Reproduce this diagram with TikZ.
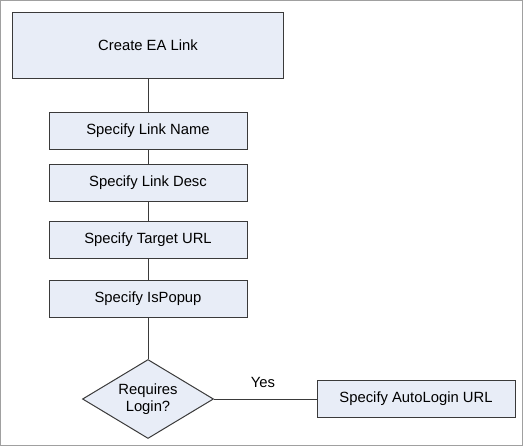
\documentclass[tikz,border=0pt]{standalone}
\usepackage{fontspec}
\setmainfont{Liberation Sans}
\usepackage{tikz}
\usetikzlibrary{shapes,arrows,positioning}
\definecolor{boxfill}{HTML}{E8EDF7}
\definecolor{boxline}{HTML}{3A3A3A}
\definecolor{framegray}{HTML}{A0A0A0}

\begin{document}
\begin{tikzpicture}
                %% setup
                [
                    x=1pt, y=-1pt,
                    every node/.style={font=\fontsize{14.8}{17}\selectfont},
                    stepnode/.style={rectangle, draw=boxline, fill=boxfill, line width=1pt, minimum width=198pt, minimum height=37pt, inner sep=0pt},
                    startnode/.style={rectangle, draw=boxline, fill=boxfill, line width=1pt, minimum width=271pt, minimum height=66pt, inner sep=0pt},
                    decisionnode/.style={diamond, draw=boxline, fill=boxfill, line width=1pt, aspect=1.66, minimum width=131pt, minimum height=79pt, inner sep=0pt, align=center},
                    link/.style={draw=boxline, line width=1pt},
                ]
                    \useasboundingbox (0,0) rectangle (524,447);
                    \draw[framegray, line width=1.3pt] (0.8,0.8) rectangle (522.6,445.6);

                    %% Nodes
                    \node [startnode] (createnode) at (148,45) {Create EA Link};
                    \node [stepnode] (namenode) at (148,130.5) {Specify Link Name};
                    \node [stepnode] (descnode) at (148,182.5) {Specify Link Desc};
                    \node [stepnode] (targetnode) at (148,239.5) {Specify Target URL};
                    \node [stepnode] (popupnode) at (148,298.5) {Specify IsPopup};
                    \node [decisionnode] (loginnode) at (148,399) {Requires\\Login?};
                    \node [stepnode] (autologinnode) at (416,399) {Specify AutoLogin URL};
                    \node [] (yestext) at (263,382) {Yes};
                    %% Lines
                    \draw[link] (createnode.south) -- (namenode.north);
                    \draw[link] (namenode.south) -- (descnode.north);
                    \draw[link] (descnode.south) -- (targetnode.north);
                    \draw[link] (targetnode.south) -- (popupnode.north);
                    \draw[link] (popupnode.south) -- (loginnode.north);
                    \draw[link] (loginnode.east) -- (autologinnode.west);
                \end{tikzpicture}
\end{document}
